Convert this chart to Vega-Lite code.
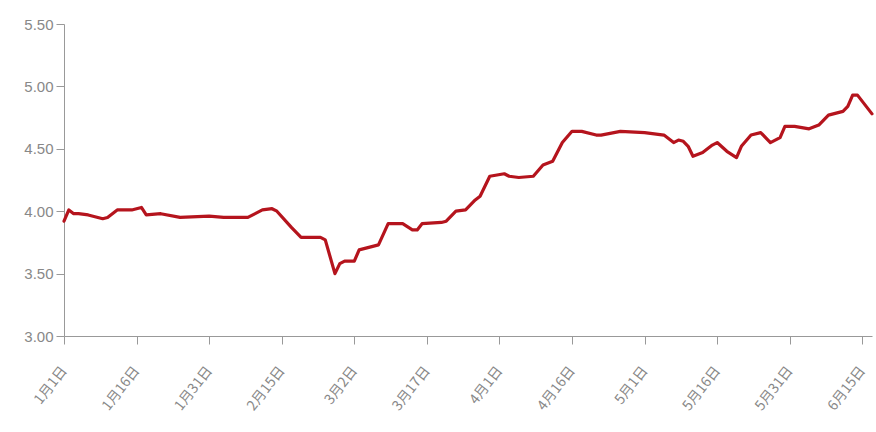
{
  "$schema": "https://vega.github.io/schema/vega-lite/v6.json",
  "width": 808,
  "height": 312,
  "autosize": {"type": "none"},
  "padding": {"left": 64, "top": 24, "right": 4, "bottom": 96},
  "background": "white",
  "config": {"view": {"stroke": null}},
  "data": {"values": [
    {"date": "2023-01-01", "price": 3.92},
    {"date": "2023-01-02", "price": 4.01},
    {"date": "2023-01-03", "price": 3.98},
    {"date": "2023-01-04", "price": 3.98},
    {"date": "2023-01-06", "price": 3.97},
    {"date": "2023-01-09", "price": 3.94},
    {"date": "2023-01-10", "price": 3.95},
    {"date": "2023-01-12", "price": 4.01},
    {"date": "2023-01-15", "price": 4.01},
    {"date": "2023-01-17", "price": 4.03},
    {"date": "2023-01-18", "price": 3.97},
    {"date": "2023-01-21", "price": 3.98},
    {"date": "2023-01-25", "price": 3.95},
    {"date": "2023-01-31", "price": 3.96},
    {"date": "2023-02-03", "price": 3.95},
    {"date": "2023-02-08", "price": 3.95},
    {"date": "2023-02-11", "price": 4.01},
    {"date": "2023-02-13", "price": 4.02},
    {"date": "2023-02-14", "price": 4.00},
    {"date": "2023-02-17", "price": 3.87},
    {"date": "2023-02-19", "price": 3.79},
    {"date": "2023-02-23", "price": 3.79},
    {"date": "2023-02-24", "price": 3.77},
    {"date": "2023-02-26", "price": 3.50},
    {"date": "2023-02-27", "price": 3.58},
    {"date": "2023-02-28", "price": 3.60},
    {"date": "2023-03-02", "price": 3.60},
    {"date": "2023-03-03", "price": 3.69},
    {"date": "2023-03-07", "price": 3.73},
    {"date": "2023-03-09", "price": 3.90},
    {"date": "2023-03-12", "price": 3.90},
    {"date": "2023-03-14", "price": 3.85},
    {"date": "2023-03-15", "price": 3.85},
    {"date": "2023-03-16", "price": 3.90},
    {"date": "2023-03-20", "price": 3.91},
    {"date": "2023-03-21", "price": 3.92},
    {"date": "2023-03-23", "price": 4.00},
    {"date": "2023-03-25", "price": 4.01},
    {"date": "2023-03-27", "price": 4.09},
    {"date": "2023-03-28", "price": 4.12},
    {"date": "2023-03-30", "price": 4.28},
    {"date": "2023-04-02", "price": 4.30},
    {"date": "2023-04-03", "price": 4.28},
    {"date": "2023-04-05", "price": 4.27},
    {"date": "2023-04-08", "price": 4.28},
    {"date": "2023-04-10", "price": 4.37},
    {"date": "2023-04-12", "price": 4.40},
    {"date": "2023-04-14", "price": 4.55},
    {"date": "2023-04-16", "price": 4.64},
    {"date": "2023-04-18", "price": 4.64},
    {"date": "2023-04-21", "price": 4.61},
    {"date": "2023-04-22", "price": 4.61},
    {"date": "2023-04-26", "price": 4.64},
    {"date": "2023-05-01", "price": 4.63},
    {"date": "2023-05-05", "price": 4.61},
    {"date": "2023-05-07", "price": 4.55},
    {"date": "2023-05-08", "price": 4.57},
    {"date": "2023-05-09", "price": 4.56},
    {"date": "2023-05-10", "price": 4.52},
    {"date": "2023-05-11", "price": 4.44},
    {"date": "2023-05-13", "price": 4.47},
    {"date": "2023-05-15", "price": 4.53},
    {"date": "2023-05-16", "price": 4.55},
    {"date": "2023-05-18", "price": 4.48},
    {"date": "2023-05-20", "price": 4.43},
    {"date": "2023-05-21", "price": 4.52},
    {"date": "2023-05-23", "price": 4.61},
    {"date": "2023-05-25", "price": 4.63},
    {"date": "2023-05-27", "price": 4.55},
    {"date": "2023-05-29", "price": 4.59},
    {"date": "2023-05-30", "price": 4.68},
    {"date": "2023-06-01", "price": 4.68},
    {"date": "2023-06-04", "price": 4.66},
    {"date": "2023-06-06", "price": 4.69},
    {"date": "2023-06-08", "price": 4.77},
    {"date": "2023-06-11", "price": 4.80},
    {"date": "2023-06-12", "price": 4.84},
    {"date": "2023-06-13", "price": 4.93},
    {"date": "2023-06-14", "price": 4.93},
    {"date": "2023-06-15", "price": 4.88},
    {"date": "2023-06-17", "price": 4.78}
  ]},
  "mark": {"type": "line", "color": "#b5141d", "strokeWidth": 3.2, "strokeJoin": "round", "strokeCap": "round"},
  "encoding": {
    "x": {
      "field": "date",
      "type": "temporal",
      "scale": {"type": "utc", "domain": [{"year": 2023, "month": 1, "date": 1, "utc": true}, {"year": 2023, "month": 6, "date": 17, "utc": true}], "nice": false},
      "axis": {
        "title": null,
        "grid": false,
        "values": [
          {"year": 2023, "month": 1, "date": 1, "utc": true},
          {"year": 2023, "month": 1, "date": 16, "utc": true},
          {"year": 2023, "month": 1, "date": 31, "utc": true},
          {"year": 2023, "month": 2, "date": 15, "utc": true},
          {"year": 2023, "month": 3, "date": 2, "utc": true},
          {"year": 2023, "month": 3, "date": 17, "utc": true},
          {"year": 2023, "month": 4, "date": 1, "utc": true},
          {"year": 2023, "month": 4, "date": 16, "utc": true},
          {"year": 2023, "month": 5, "date": 1, "utc": true},
          {"year": 2023, "month": 5, "date": 16, "utc": true},
          {"year": 2023, "month": 5, "date": 31, "utc": true},
          {"year": 2023, "month": 6, "date": 15, "utc": true}
        ],
        "labelExpr": "(utcmonth(datum.value) + 1) + '月' + utcdate(datum.value) + '日'",
        "labelAngle": -52,
        "labelAlign": "right",
        "labelBaseline": "middle",
        "labelPadding": 24,
        "labelFont": "Noto Sans CJK SC",
        "labelFontSize": 14,
        "labelColor": "#888888",
        "domainColor": "#999999",
        "tickColor": "#999999",
        "tickSize": 8,
        "labelOverlap": false,
        "labelBound": false,
        "labelFlush": false
      }
    },
    "y": {
      "field": "price",
      "type": "quantitative",
      "scale": {"domain": [3, 5.5], "nice": false, "zero": false},
      "axis": {
        "title": null,
        "grid": false,
        "values": [3, 3.5, 4, 4.5, 5, 5.5],
        "format": ".2f",
        "labelFont": "Liberation Sans",
        "labelFontSize": 15,
        "labelColor": "#888888",
        "domainColor": "#999999",
        "tickColor": "#999999",
        "tickSize": 8,
        "labelPadding": 3
      }
    }
  }
}
